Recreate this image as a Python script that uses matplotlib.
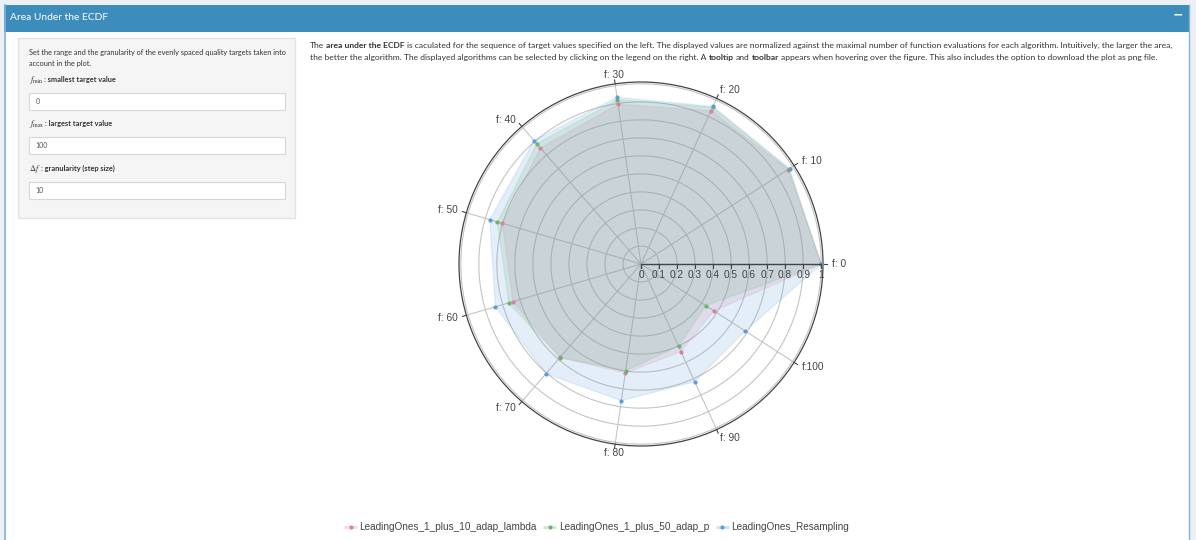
import numpy as np
import matplotlib
matplotlib.use("Agg")
import matplotlib.pyplot as plt
from matplotlib.patches import Rectangle
from matplotlib.transforms import offset_copy

# ---------------- data ----------------
categories = ['f: 0', 'f: 10', 'f: 20', 'f: 30', 'f: 40', 'f: 50',
              'f: 60', 'f: 70', 'f: 80', 'f: 90', 'f:100']
series_names = ['LeadingOnes_1_plus_10_adap_lambda',
                'LeadingOnes_1_plus_50_adap_p',
                'LeadingOnes_Resampling']
auc_adap_lambda = [1.0, 0.970, 0.935, 0.896, 0.852, 0.802, 0.741, 0.685, 0.611, 0.534, 0.480]
auc_adap_p      = [1.0, 0.975, 0.956, 0.920, 0.883, 0.830, 0.765, 0.688, 0.598, 0.502, 0.427]
auc_resampling  = [1.0, 0.980, 0.961, 0.935, 0.906, 0.875, 0.842, 0.805, 0.766, 0.718, 0.687]
radial_ticks = [0, 0.1, 0.2, 0.3, 0.4, 0.5, 0.6, 0.7, 0.8, 0.9, 1.0]
radial_tick_labels = ['0', '0.1', '0.2', '0.3', '0.4', '0.5', '0.6', '0.7', '0.8', '0.9', '1']
series_colors = ['#de7f9c', '#6cb46c', '#5a9edb']

title = 'Area Under the ECDF'
panel_intro = ['Set the range and the granularity of the evenly spaced quality targets taken into',
               'account in the plot.']
input_math = [r'$f_{\mathrm{min}}$', r'$f_{\mathrm{max}}$', r'$\Delta f$']
input_text = [': smallest target value', ': largest target value', ': granularity (step size)']
input_values = ['0', '100', '10']
desc_line1 = [('The', 'normal'), ('area under the ECDF', 'bold'),
              ('is caculated for the sequence of target values specified on the left. The displayed values '
               'are normalized against the maximal number of function evaluations for each algorithm. '
               'Intuitively, the larger the area,', 'normal')]
desc_line2 = [('the better the algorithm. The displayed algorithms can be selected by clicking on the legend '
               'on the right. A', 'normal'), ('tooltip', 'bold'), ('and', 'normal'), ('toolbar', 'bold'),
              ('appears when hovering over the figure. This also includes the option to download the plot '
               'as png file.', 'normal')]

# ---------------- figure ----------------
W, H = 1196, 540
plt.rcParams['mathtext.fontset'] = 'stix'
fig = plt.figure(figsize=(W / 100, H / 100), dpi=100)
fig.patch.set_facecolor('#ecf0f5')
bg = fig.add_axes([0, 0, 1, 1])
bg.set_xlim(0, W)
bg.set_ylim(H, 0)
bg.axis('off')
renderer = fig.canvas.get_renderer()

DASH_FONT = 'Lato'
PLOT_FONT = 'Liberation Sans'


def ink(s, size, family, weight='normal'):
    t = bg.text(0, 0, s, fontsize=size, family=family, weight=weight)
    w = t.get_window_extent(renderer).width
    t.remove()
    return w


def adv(s, size, family, weight='normal'):
    return ink('|' + s + '|', size, family, weight) - ink('||', size, family, weight)


def seg_width(segs, size, family):
    tot = 0.0
    for i, (s, w) in enumerate(segs):
        tot += adv(s + (' ' if i < len(segs) - 1 else ''), size, family, w)
    return tot


def fit_size(segs, family, width, base=10.0):
    return base * width / seg_width(segs, base, family)


def rich(x, yc, segs, family, color, size, sizes=None):
    """Draw mixed-weight text; yc is the visual centre of lowercase text."""
    yb = yc + 0.30 * size * 100 / 72  # baseline
    cx = x
    for i, (s, w) in enumerate(segs):
        sz = size if sizes is None else sizes[i]
        bg.text(cx, yb, s, fontsize=sz, family=family, weight=w, color=color,
                ha='left', va='baseline', zorder=4)
        cx += adv(s + ' ', sz, family, w)
    return cx


# ---------------- dashboard frame ----------------
bg.add_patch(Rectangle((4, 5), 1185, 540, facecolor='white', edgecolor='none', zorder=0))
bg.add_patch(Rectangle((4, 5), 1185, 27, facecolor='#3c8dbc', edgecolor='none', zorder=1))
bg.plot([4.5, 4.5], [5, 540], color='#7fb3da', lw=1.2, zorder=2)
bg.plot([1188.8, 1188.8], [5, 540], color='#7fb3da', lw=1.0, zorder=2)
s_title = fit_size([(title, 'normal')], DASH_FONT, 98)
rich(10, 17, [(title, 'normal')], DASH_FONT, 'white', s_title)
bg.text(1178, 15, '\u2212', color='white', fontsize=9, family='DejaVu Sans',
        ha='center', va='center', weight='bold')

# left panel
bg.add_patch(Rectangle((18, 37.7), 277, 180, facecolor='#f5f5f5', edgecolor='#e3e3e3', lw=1, zorder=1))
s_intro = fit_size([(panel_intro[0], 'normal')], DASH_FONT, 256)
rich(29, 53.3, [(panel_intro[0], 'normal')], DASH_FONT, '#333333', s_intro)
rich(29, 64.3, [(panel_intro[1], 'normal')], DASH_FONT, '#333333', s_intro)
label_y = [80, 124.3, 168.7]
box_y = [93.3, 137.3, 181.7]
for mth, txt, ly, by, val in zip(input_math, input_text, label_y, box_y, input_values):
    rich(29, ly, [(mth, 'normal'), (txt, 'bold')], DASH_FONT, '#333333', s_intro,
         sizes=[s_intro * 1.15, s_intro])
    bg.add_patch(Rectangle((28.5, by), 256.5, 17, facecolor='white', edgecolor='#d2d6de', lw=0.8, zorder=2))
    bg.text(35.5, by + 8.7, val, fontsize=s_intro * 0.95, family=DASH_FONT, color='#555555',
            ha='left', va='center', zorder=3)

# description
s_desc = fit_size(desc_line1, DASH_FONT, 1170 - 310)
rich(310, 45.5, desc_line1, DASH_FONT, '#333333', s_desc)
rich(310, 57, desc_line2, DASH_FONT, '#333333', s_desc)

# ---------------- polar chart ----------------
cx0, cy0, R = 641, 264, 182.0
rmax = 1.01
ax = fig.add_axes([(cx0 - R) / W, (H - cy0 - R) / H, 2 * R / W, 2 * R / H], projection='polar')
ax.set_facecolor('none')
ax.set_ylim(0, rmax)
ax.set_xticks([])
ax.set_yticks([])
ax.grid(False)
ax.spines['polar'].set_color('#444444')
ax.spines['polar'].set_linewidth(0.9)

theta = np.arange(len(categories)) * 2 * np.pi / len(categories)
tt = np.linspace(0, 2 * np.pi, 500)
for r in radial_ticks[1:]:
    ax.plot(tt, np.full_like(tt, r), color='#c4c4c4', lw=0.8, zorder=1)
for th in theta:
    ax.plot([th, th], [0, rmax], color='#c4c4c4', lw=0.8, zorder=1)
    ax.plot([th, th], [rmax, rmax + 0.022], color='#444444', lw=0.8, zorder=1, clip_on=False)

for th, lab in zip(theta, categories):
    c = np.cos(th)
    ha = 'left' if c > 0.2 else ('right' if c < -0.2 else 'center')
    ax.text(th, 1.06, lab, ha=ha, va='center', fontsize=7.3, family=PLOT_FONT, color='#444444')

all_series = [auc_adap_lambda, auc_adap_p, auc_resampling]
for vals, col in zip(all_series, series_colors):
    v = np.asarray(vals)
    th_c = np.append(theta, theta[0])
    v_c = np.append(v, v[0])
    ax.fill(th_c, v_c, color=col, alpha=0.17, lw=0, zorder=2)
    ax.plot(th_c, v_c, color=col, alpha=0.15, lw=1.0, zorder=3)
    ax.plot(theta, v, 'o', ms=3.0, color=col, mec='none', zorder=4, clip_on=False)

# radial axis
ax.plot([0, 0], [0, 1.0], color='#444444', lw=1.0, zorder=5)
ax.plot(np.zeros(len(radial_ticks)), radial_ticks, ls='none', marker=3, ms=2.8,
        mew=0.8, color='#444444', zorder=5)
lab_tr = offset_copy(ax.transData, fig=fig, x=0, y=-10.5, units='dots')
for r, lab in zip(radial_ticks, radial_tick_labels):
    ax.text(0, r, lab, transform=lab_tr, ha='center', va='center', fontsize=7.3,
            family=PLOT_FONT, color='#444444', zorder=6)

# ---------------- legend ----------------
lx, ly = 344, 527
for name, col in zip(series_names, series_colors):
    bg.plot([lx, lx + 13], [ly, ly], color=col, alpha=0.3, lw=2, solid_capstyle='butt')
    bg.plot([lx + 6.5], [ly], 'o', ms=3.0, color=col, mec='none')
    t = bg.text(lx + 15.5, ly, name, fontsize=7.2, family=PLOT_FONT, color='#444444',
                ha='left', va='center')
    lx = lx + 15.5 + t.get_window_extent(renderer).width + 6.5

fig.savefig('out.png', dpi=100, facecolor=fig.get_facecolor())
